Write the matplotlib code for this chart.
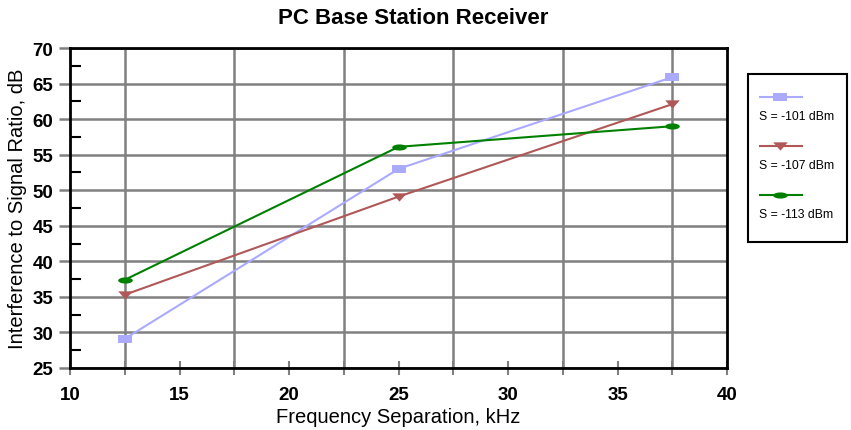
import numpy as np
import matplotlib
matplotlib.use("Agg")
import matplotlib.pyplot as plt
from matplotlib.lines import Line2D
from matplotlib.patches import Rectangle
from matplotlib.ticker import MultipleLocator, FixedLocator

plt.rcParams['font.family'] = ['Liberation Sans', 'DejaVu Sans']

# data
freq_khz = [12.5, 25, 37.5]
ratio_101 = [29.1, 53.0, 65.9]
ratio_107 = [35.3, 49.1, 62.1]
ratio_113 = [37.4, 56.1, 59.0]
series_labels = ["S = -101 dBm", "S = -107 dBm", "S = -113 dBm"]
series_colors = ["#aaaaff", "#b05858", "#008000"]

# flattened markers like the original
rect = [(-1, -0.57), (1, -0.57), (1, 0.57), (-1, 0.57), (-1, -0.57)]
tri = [(-1, 0.57), (1, 0.57), (0, -0.57), (-1, 0.57)]
t = np.linspace(0, 2 * np.pi, 40)
ell = list(zip(np.cos(t), 0.42 * np.sin(t)))
markers = [rect, tri, ell]

fig = plt.figure(figsize=(8.51, 4.31), dpi=100)
W, H = 851, 431
ax = fig.add_axes([70 / W, (H - 369) / H, 657 / W, 320 / H])

for ys, col, mk, lab in zip([ratio_101, ratio_107, ratio_113], series_colors, markers, series_labels):
    ax.plot(freq_khz, ys, color=col, lw=1.5, marker=mk, markersize=10.5,
            markeredgewidth=0, label=lab, zorder=3)

ax.set_xlim(10, 40)
ax.set_ylim(25, 70)

ax.xaxis.set_major_locator(MultipleLocator(5))
ax.xaxis.set_minor_locator(FixedLocator([12.5, 17.5, 22.5, 27.5, 32.5, 37.5]))
ax.yaxis.set_major_locator(MultipleLocator(5))
ax.yaxis.set_minor_locator(FixedLocator(np.arange(27.5, 70, 5)))

ax.grid(True, which='minor', axis='x', color='#808080', lw=1.8)
ax.grid(True, which='major', axis='y', color='#808080', lw=1.8)
ax.set_axisbelow(True)

ax.tick_params(axis='x', which='both', direction='inout', length=10, width=1.5,
               color='#808080', pad=8)
ax.tick_params(axis='y', which='major', direction='out', length=8, width=1.8,
               color='#808080', pad=4)
ax.tick_params(axis='y', which='minor', direction='in', length=8, width=1.5,
               color='black')
for lbl in ax.get_xticklabels() + ax.get_yticklabels():
    lbl.set_fontweight('bold')
    lbl.set_fontsize(13.5)

for s in ax.spines.values():
    s.set_color('black')
    s.set_linewidth(2)

ax.set_xlabel("Frequency Separation, kHz", fontsize=14.5, labelpad=3)
ax.set_ylabel("Interference to Signal Ratio, dB", fontsize=14.5, labelpad=4)
fig.text(413 / W, 1 - 19 / H, "PC Base Station Receiver", fontsize=16,
         fontweight='bold', ha='center', va='center')

# legend drawn by hand: line sample above its text
fig.add_artist(Rectangle((748 / W, 1 - 243 / H), 99 / W, 168 / H,
                         transform=fig.transFigure, fill=False, ec='black', lw=1.5))
for i, (col, mk, lab) in enumerate(zip(series_colors, markers, series_labels)):
    y_line = 98 + i * 49
    fig.add_artist(Line2D([760 / W, 802 / W], [1 - y_line / H] * 2, transform=fig.transFigure,
                          color=col, lw=1.5))
    fig.add_artist(Line2D([780 / W], [1 - y_line / H], transform=fig.transFigure,
                          color=col, marker=mk, markersize=10.5, markeredgewidth=0, lw=0))
    fig.text(759 / W, 1 - (y_line + 19) / H, lab, fontsize=8.8, ha='left', va='center')

fig.savefig("out.png", dpi=100)
